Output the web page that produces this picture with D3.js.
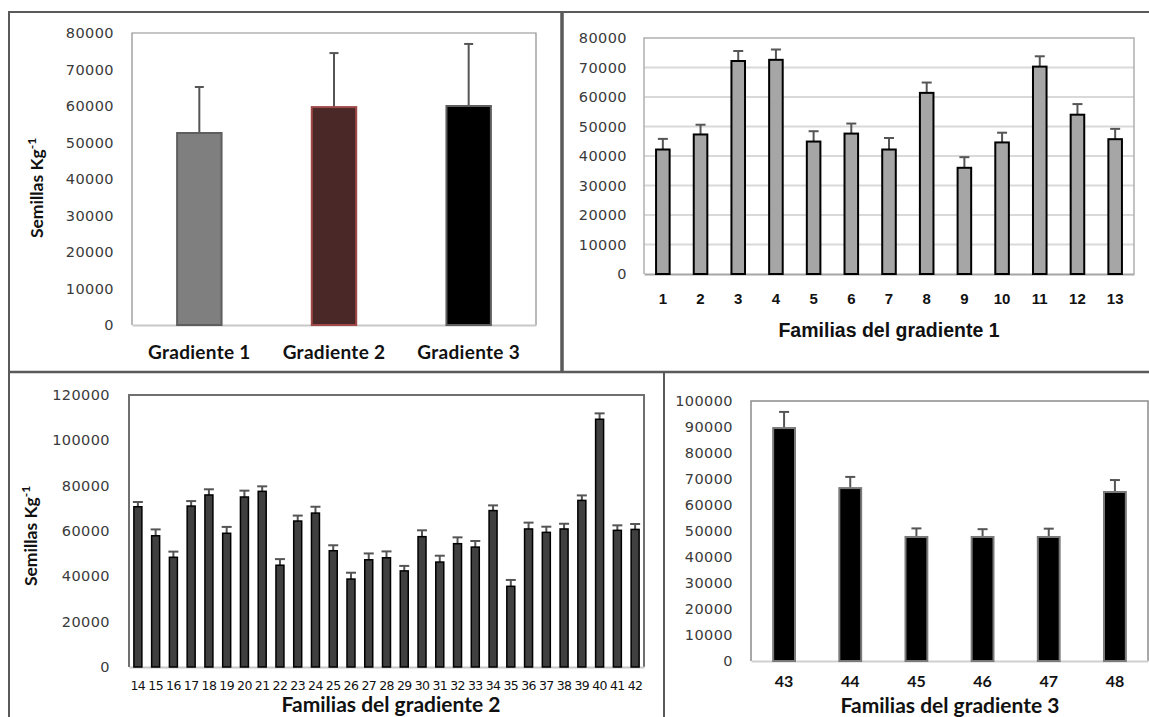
<!DOCTYPE html>
<html><head><meta charset="utf-8">
<script src="https://cdn.jsdelivr.net/npm/d3@7"></script>
<style>body{margin:0;background:#fff}svg{display:block}</style>
</head><body><svg id="c" width="1149" height="717"></svg>
<script>
// ---------- DATA ----------
const gradCats = ["Gradiente 1", "Gradiente 2", "Gradiente 3"];
const gradMeans = [52600, 59700, 60000];
const gradErr = [12600, 14800, 17000];
const gradTicks = [0, 10000, 20000, 30000, 40000, 50000, 60000, 70000, 80000];

const g1Fam = ["1","2","3","4","5","6","7","8","9","10","11","12","13"];
const g1Means = [42200,47300,72200,72600,44900,47600,42200,61400,36000,44600,70300,54000,45700];
const g1Err = [3600,3300,3400,3500,3500,3400,3900,3500,3600,3300,3500,3600,3500];
const g1Ticks = [0, 10000, 20000, 30000, 40000, 50000, 60000, 70000, 80000];

const g2Fam = ["14","15","16","17","18","19","20","21","22","23","24","25","26","27","28","29","30","31","32","33","34","35","36","37","38","39","40","41","42"];
const g2Means = [70700,57900,48400,71000,75900,59000,75000,77500,44900,64400,67900,51300,38800,47300,48200,42400,57500,46300,54400,52900,69000,35600,60900,59400,60900,73500,109300,60300,60700];
const g2Err = [2100,2800,2500,2200,2500,2800,2800,2200,2700,2400,2800,2400,2800,2800,2800,2200,2800,2800,2800,2700,2300,2800,2800,2500,2300,2200,2600,2200,2400];
const g2Ticks = [0, 20000, 40000, 60000, 80000, 100000, 120000];

const g3Fam = ["43","44","45","46","47","48"];
const g3Means = [89600,66500,47700,47700,47700,65000];
const g3Err = [6200,4300,3300,3000,3200,4600];
const g3Ticks = [0,10000,20000,30000,40000,50000,60000,70000,80000,90000,100000];

const yTitle = "Semillas Kg";
const yTitleSup = "-1";
const title1 = "Familias del gradiente 1";
const title2 = "Familias del gradiente 2";
const title3 = "Familias del gradiente 3";

// ---------- DRAW ----------
const svg = d3.select("#c");
const TICKFONT = "'DejaVu Sans', sans-serif";
const CALFONT = "Lato, 'Open Sans', sans-serif";
const ARIALFONT = "'Liberation Sans', Arial, sans-serif";

// panel borders
const B = "#5a5a5a";
function ln(x1,y1,x2,y2,w,c){svg.append("line").attr("x1",x1).attr("y1",y1).attr("x2",x2).attr("y2",y2).attr("stroke",c||B).attr("stroke-width",w||2);}
ln(9,11,9,372,2); ln(8,12,1149,12,2); ln(562,11,562,373,3.5);
ln(8,372,1149,372,2.5); ln(9,372,9,717,2); ln(664,372,664,717,2);

function panel(o){
  const x = d3.scaleBand().domain(o.cats).range([o.x0,o.x1]).paddingInner(o.pi).paddingOuter(o.pi/2);
  const y = d3.scaleLinear().domain([0,o.max]).range([o.y1,o.y0]);
  const g = svg.append("g");
  if (o.grid) {
    g.append("g").selectAll("line").data(o.ticks.slice(1,-1)).join("line")
      .attr("x1",o.x0).attr("x2",o.x1).attr("y1",d=>y(d)).attr("y2",d=>y(d))
      .attr("stroke","#d9d9d9").attr("stroke-width",2);
  }
  // frame (left, top, right)
  g.append("path").attr("d",`M${o.x0},${o.y1}V${o.y0}H${o.x1}V${o.y1}`)
    .attr("fill","none").attr("stroke",o.frame).attr("stroke-width",o.frameW);
  // y axis
  const ya = g.append("g").attr("transform",`translate(${o.x0},0)`)
    .call(d3.axisLeft(y).tickValues(o.ticks).tickSize(0).tickPadding(o.ypad).tickFormat(d3.format("d")));
  ya.select(".domain").remove();
  ya.selectAll("text").attr("font-family",TICKFONT).attr("font-size",o.yfs).attr("fill","#3a3a3a")
    .attr("letter-spacing",o.yls);
  // x axis
  const xa = g.append("g").attr("transform",`translate(0,${o.y1})`)
    .call(d3.axisBottom(x).tickSize(0).tickPadding(o.xpad));
  xa.select(".domain").attr("stroke",o.base).attr("stroke-width",2);
  xa.selectAll("text").attr("font-family",o.xfont).attr("font-size",o.xfs).attr("font-weight",o.xfw)
    .attr("fill","#111").attr("letter-spacing",o.xls||0);
  // error bars
  const eg = g.append("g");
  o.means.forEach((m,i)=>{
    const cx = x(o.cats[i]) + x.bandwidth()/2;
    const top = y(m + o.err[i]);
    eg.append("line").attr("x1",cx).attr("x2",cx).attr("y1",y(m)).attr("y2",top)
      .attr("stroke","#555").attr("stroke-width",2);
    eg.append("line").attr("x1",cx-o.cap/2).attr("x2",cx+o.cap/2).attr("y1",top).attr("y2",top)
      .attr("stroke","#555").attr("stroke-width",2);
  });
  // bars
  g.append("g").selectAll("rect").data(o.means).join("rect")
    .attr("x",(d,i)=>x(o.cats[i])).attr("width",x.bandwidth())
    .attr("y",d=>y(d)).attr("height",d=>y(0)-y(d))
    .attr("fill",(d,i)=>Array.isArray(o.fill)?o.fill[i]:o.fill)
    .attr("stroke",(d,i)=>Array.isArray(o.stroke)?o.stroke[i]:o.stroke)
    .attr("stroke-width",o.sw);
  return {x,y,g};
}

function ytitle(cx,cy){
  const t = svg.append("text").attr("transform",`translate(${cx},${cy}) rotate(-90)`)
    .attr("text-anchor","middle").attr("font-family",CALFONT).attr("font-weight","bold")
    .attr("font-size",17.5).attr("fill","#111");
  t.append("tspan").text(yTitle);
  t.append("tspan").attr("dy",-7).attr("font-size",12).text(yTitleSup);
}

// Panel 1
panel({cats:gradCats,means:gradMeans,err:gradErr,ticks:gradTicks,max:80000,
  x0:132,x1:536,y0:33,y1:325,pi:0.67,frame:"#8c8c8c",frameW:1.2,base:"#c8c8c8",
  ypad:18,yfs:14.5,yls:0.4,xpad:21,xfont:CALFONT,xfs:19,xfw:"bold",xls:0.3,cap:9,
  fill:["#7f7f7f","#4a2828","#000"],stroke:["#5e5e5e","#a04848","#5e5e5e"],sw:2});
ytitle(43,188);

// Panel 2
panel({cats:g1Fam,means:g1Means,err:g1Err,ticks:g1Ticks,max:80000,
  x0:644,x1:1134,y0:38,y1:274,pi:0.64,frame:"#b0b0b0",frameW:1.5,base:"#a6a6a6",grid:true,
  ypad:17,yfs:14.5,yls:0.4,xpad:19,xfont:ARIALFONT,xfs:15,xfw:"bold",cap:10,
  fill:"#a6a6a6",stroke:"#000",sw:2});
svg.append("text").attr("x",889).attr("y",337).attr("text-anchor","middle")
  .attr("font-family",ARIALFONT).attr("font-weight","bold").attr("font-size",19.5).attr("fill","#111").text(title1);

// Panel 3
panel({cats:g2Fam,means:g2Means,err:g2Err,ticks:g2Ticks,max:120000,
  x0:129,x1:644,y0:395,y1:667,pi:0.55,frame:"#707070",frameW:2,base:"#c8c8c8",
  ypad:19,yfs:14.5,yls:0.4,xpad:14,xfont:TICKFONT,xfs:12.5,xfw:"normal",xls:-0.6,cap:10,
  fill:"#404040",stroke:"#000",sw:1.5});
svg.append("text").attr("x",391).attr("y",712).attr("text-anchor","middle")
  .attr("font-family",CALFONT).attr("font-weight","bold").attr("font-size",21).attr("fill","#111").text(title2);
ytitle(37,536);

// Panel 4
panel({cats:g3Fam,means:g3Means,err:g3Err,ticks:g3Ticks,max:100000,
  x0:751,x1:1148,y0:401,y1:661,pi:0.67,frame:"#8c8c8c",frameW:1.5,base:"#d0d0d0",
  ypad:18,yfs:14.5,yls:0.4,xpad:15,xfont:CALFONT,xfs:16,xfw:"bold",cap:10,
  fill:"#000",stroke:"#7a7a7a",sw:2});
svg.append("text").attr("x",950).attr("y",713).attr("text-anchor","middle")
  .attr("font-family",CALFONT).attr("font-weight","bold").attr("font-size",21).attr("fill","#111").text(title3);
</script>
</body></html>
